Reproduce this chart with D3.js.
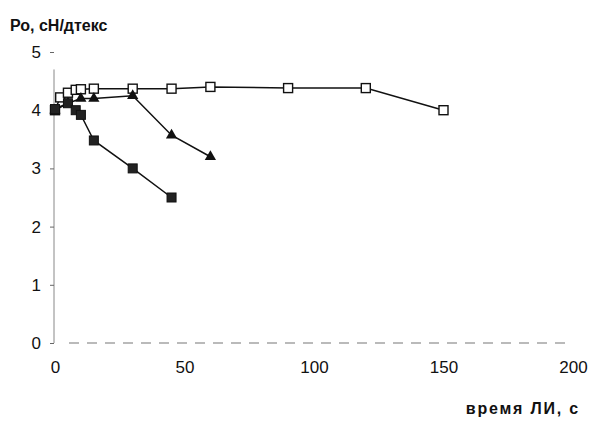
<!DOCTYPE html>
<head>
  <meta charset="utf-8">
  <script src="https://d3js.org/d3.v7.min.js"></script>
  <style>
    body { margin:0; background:#fff; }
    text { font-family: "Liberation Sans", Arial, sans-serif; fill:#111; }
    .axis-title { font-weight: bold; font-size: 16px; }
    .tick text { font-size: 17px; }
    .series { fill: none; stroke: #111; stroke-width: 1.5; }
  </style>
</head>
<body>
  <script>
    // values
    var xTicks = [0, 50, 100, 150, 200];
    var yTicks = [0, 1, 2, 3, 4, 5];

    var openTime  = [0, 2, 5, 8, 10, 15, 30, 45, 60, 90, 120, 150];
    var openVal   = [4.0, 4.22, 4.3, 4.35, 4.36, 4.37, 4.37, 4.37, 4.4, 4.38, 4.38, 4.0];

    var triTime   = [0, 5, 10, 15, 30, 45, 60];
    var triVal    = [4.0, 4.12, 4.2, 4.2, 4.25, 3.57, 3.2];

    var fillTime  = [0, 5, 8, 10, 15, 30, 45];
    var fillVal   = [4.02, 4.12, 4.0, 3.92, 3.48, 3.0, 2.5];

    var width = 592, height = 426;

    var svg = d3.select("body").append("svg")
        .attr("width", width)
        .attr("height", height);

    var x = d3.scaleLinear().domain([0, 200]).range([55, 573]);
    var y = d3.scaleLinear().domain([0, 5]).range([343, 52]);

    function pairs(t, v) {
      return t.map(function(d, i) { return {t: d, v: v[i]}; });
    }

    var line = d3.line()
      .x(function(d) { return x(d.t); })
      .y(function(d) { return y(d.v); });

    // y axis (faint, scanned look)
    var yAxis = d3.axisLeft(y).tickValues(yTicks).tickSize(4).tickPadding(9).tickFormat(d3.format("d"));
    var gy = svg.append("g")
      .attr("transform", "translate(54,0)")
      .call(yAxis);
    gy.select(".domain").attr("stroke", "#888").attr("stroke-width", 1)
      .attr("d", "M0," + y(0) + "V" + y(4.7));
    gy.selectAll(".tick line").attr("stroke", "#666");

    // x axis: dashed faint line at zero
    var xAxis = d3.axisBottom(x).tickValues(xTicks).tickSize(0).tickPadding(18);
    var gx = svg.append("g")
      .attr("transform", "translate(0," + y(0) + ")")
      .call(xAxis);
    gx.select(".domain")
      .attr("d", "M" + (x(0) + 14) + ",0H" + x(200))
      .attr("stroke", "#777")
      .attr("stroke-width", 1.2)
      .attr("stroke-dasharray", "10,8");

    var open = pairs(openTime, openVal),
        tri = pairs(triTime, triVal),
        filled = pairs(fillTime, fillVal);

    svg.append("path").datum(open).attr("class", "series").attr("d", line);
    svg.append("path").datum(tri).attr("class", "series").attr("d", line);
    svg.append("path").datum(filled).attr("class", "series").attr("d", line);

    var s = 9;
    svg.selectAll(".open").data(open).enter().append("rect")
      .attr("x", function(d) { return x(d.t) - s / 2; })
      .attr("y", function(d) { return y(d.v) - s / 2; })
      .attr("width", s).attr("height", s)
      .attr("fill", "#fff").attr("stroke", "#111").attr("stroke-width", 1.4);

    var triangle = d3.symbol().type(d3.symbolTriangle).size(55);
    svg.selectAll(".tri").data(tri).enter().append("path")
      .attr("d", triangle)
      .attr("transform", function(d) { return "translate(" + x(d.t) + "," + y(d.v) + ")"; })
      .attr("fill", "#111");

    svg.selectAll(".filled").data(filled).enter().append("rect")
      .attr("x", function(d) { return x(d.t) - s / 2; })
      .attr("y", function(d) { return y(d.v) - s / 2; })
      .attr("width", s).attr("height", s)
      .attr("fill", "#222").attr("stroke", "#111").attr("stroke-width", 1);

    svg.append("text")
      .attr("class", "axis-title")
      .attr("x", 10).attr("y", 31)
      .text("Ро, сН/дтекс");

    svg.append("text")
      .attr("class", "axis-title")
      .attr("x", 580).attr("y", 414)
      .attr("text-anchor", "end")
      .style("letter-spacing", "1.8px")
      .text("время ЛИ, с");
  </script>
</body>
